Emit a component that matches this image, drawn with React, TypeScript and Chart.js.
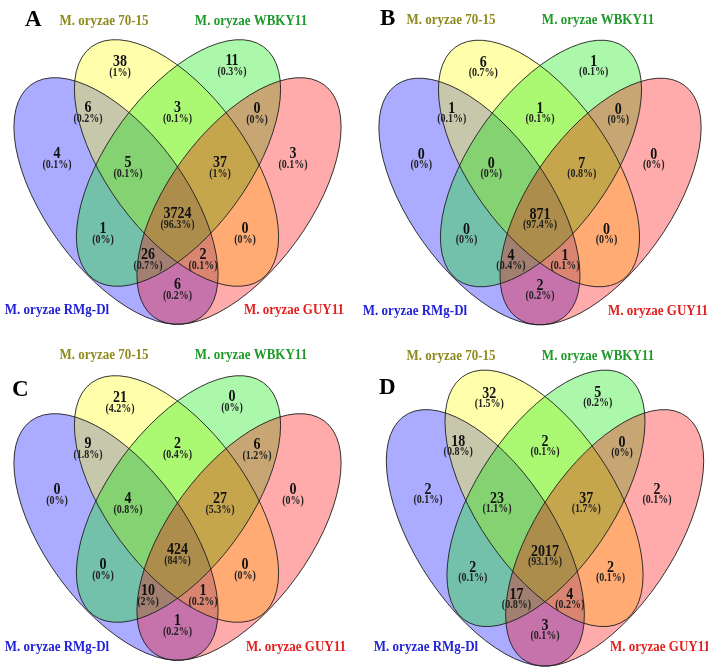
import React, { useEffect, useRef } from 'react';
import { Chart, registerables } from 'chart.js';

Chart.register(...registerables);

// ---------------- DATA ----------------
// Region order: 70-15 only, WBKY11 only, RMg-Dl∩70-15, 70-15∩WBKY11, WBKY11∩GUY11,
// RMg-Dl only, RMg-Dl∩70-15∩WBKY11, 70-15∩WBKY11∩GUY11, GUY11 only, RMg-Dl∩WBKY11,
// all four, 70-15∩GUY11, RMg-Dl∩WBKY11∩GUY11, RMg-Dl∩70-15∩GUY11, RMg-Dl∩GUY11
const regionKeys = ['Y', 'G', 'BY', 'YG', 'GR', 'B', 'BYG', 'YGR', 'R', 'BG', 'BYGR', 'YR', 'BGR', 'BYR', 'BR'];
const countsA = [38, 11, 6, 3, 0, 4, 5, 37, 3, 1, 3724, 0, 26, 2, 6];
const countsB = [6, 1, 1, 1, 0, 0, 0, 7, 0, 0, 871, 0, 4, 1, 2];
const countsC = [21, 0, 9, 2, 6, 0, 4, 27, 0, 0, 424, 0, 10, 1, 1];
const countsD = [32, 5, 18, 2, 0, 2, 23, 37, 2, 2, 2017, 2, 17, 4, 3];
const panelLetters = ['A', 'B', 'C', 'D'];
const setNames = ['M. oryzae RMg-Dl', 'M. oryzae 70-15', 'M. oryzae WBKY11', 'M. oryzae GUY11'];

// ---------------- LAYOUT / STYLE ----------------
const SET_FILLS = ['rgba(0,0,255,0.33)', 'rgba(255,255,0,0.33)', 'rgba(0,235,0,0.33)', 'rgba(255,0,0,0.33)'];
const TITLE_COLORS = ['#2222d6', '#8e8a1e', '#1f9a2a', '#e2201e'];
const SERIF = "'Liberation Serif', 'DejaVu Serif', 'Times New Roman', serif";
// ellipse geometry in diagram units, origin at diagram centre (y down)
const ELLIPSES = [
  { cx: -61.5, cy: 21.5, rot: 53.8 },
  { cx: -1, cy: -16.5, rot: 53.8 },
  { cx: 1, cy: -16.5, rot: 126.2 },
  { cx: 61.5, cy: 21.5, rot: 126.2 },
];
const SEMI_A = 144;
const SEMI_B = 70;
const REGION_POS: [number, number][] = [
  [-57.5, -112.5], [54.5, -113.5], [-89.5, -66.5], [0, -66.5], [79.5, -65.5],
  [-120.5, -20.5], [-49.5, -11.5], [42.5, -11.5], [115.5, -20.5], [-74.5, 54.5],
  [0, 39.5], [67.5, 54.5], [-29.5, 80.5], [25.5, 80.5], [0, 110.5],
];
const PANELS = [
  { counts: countsA, cx: 177.5, cy: 179.5, sx: 1, sy: 1, letter: [25, 26],
    titles: [[57, 310], [104, 21], [251, 21], [294, 310]] },
  { counts: countsB, cx: 540, cy: 180, sx: 0.985, sy: 1, letter: [380, 25],
    titles: [[415, 311], [451, 20], [598, 20], [658, 311]] },
  { counts: countsC, cx: 177.5, cy: 515.5, sx: 1, sy: 1, letter: [12, 396],
    titles: [[57, 647], [104, 355], [251, 355], [296, 647]] },
  { counts: countsD, cx: 545, cy: 515.5, sx: 0.97, sy: 1.04, letter: [379, 394],
    titles: [[426, 647], [451, 356], [598, 356], [660, 647]] },
];

function pctLabel(v: number, total: number) {
  let s = ((v / total) * 100).toFixed(1);
  if (s.endsWith('.0')) s = s.slice(0, -2);
  return '(' + s + '%)';
}

function drawText(ctx: CanvasRenderingContext2D, text: string, x: number, y: number,
  font: string, color: string, stretch: number, align: CanvasTextAlign = 'center',
  baseline: CanvasTextBaseline = 'middle') {
  ctx.save();
  ctx.translate(x, y);
  ctx.scale(1, stretch);
  ctx.font = font;
  ctx.fillStyle = color;
  ctx.textAlign = align;
  ctx.textBaseline = baseline;
  ctx.fillText(text, 0, 0);
  ctx.restore();
}

const vennPlugin = {
  id: 'venn4',
  beforeDatasetsDraw(chart: any) {
    const ctx: CanvasRenderingContext2D = chart.ctx;
    const xs = chart.scales.x;
    const ys = chart.scales.y;
    const kx = xs.getPixelForValue(1) - xs.getPixelForValue(0);
    const ky = ys.getPixelForValue(1) - ys.getPixelForValue(0);
    PANELS.forEach((p) => {
      const paths: Path2D[] = [];
      ELLIPSES.forEach((e) => {
        const px = xs.getPixelForValue(p.cx + e.cx * p.sx);
        const py = ys.getPixelForValue(p.cy + e.cy * p.sy);
        const path = new Path2D();
        const m = new DOMMatrix().translate(px, py).scale(p.sx * kx, p.sy * ky);
        const local = new Path2D();
        local.ellipse(0, 0, SEMI_A, SEMI_B, (e.rot * Math.PI) / 180, 0, Math.PI * 2);
        path.addPath(local, m);
        paths.push(path);
      });
      paths.forEach((path, i) => {
        ctx.fillStyle = SET_FILLS[i];
        ctx.fill(path);
      });
      ctx.strokeStyle = 'rgba(30,30,30,0.9)';
      ctx.lineWidth = 1;
      paths.forEach((path) => ctx.stroke(path));
    });
  },
  afterDatasetsDraw(chart: any) {
    const ctx: CanvasRenderingContext2D = chart.ctx;
    const xs = chart.scales.x;
    const ys = chart.scales.y;
    PANELS.forEach((p, pi) => {
      const meta = chart.getDatasetMeta(pi);
      const total = p.counts.reduce((s, v) => s + v, 0);
      meta.data.forEach((el: any, j: number) => {
        const v = p.counts[j];
        drawText(ctx, String(v), el.x, el.y - 5, `bold 14px ${SERIF}`, '#111', 1.2);
        drawText(ctx, pctLabel(v, total), el.x, el.y + 5.5, `bold 10px ${SERIF}`, '#222', 1.2);
      });
      setNames.forEach((name, k) => {
        const [tx, ty] = p.titles[k];
        drawText(ctx, name, xs.getPixelForValue(tx), ys.getPixelForValue(ty), `bold 13px ${SERIF}`, TITLE_COLORS[k], 1.12);
      });
      drawText(ctx, panelLetters[pi], xs.getPixelForValue(p.letter[0]), ys.getPixelForValue(p.letter[1]),
        `bold 23px ${SERIF}`, '#000', 1.0, 'left', 'alphabetic');
    });
  },
};

export default function App() {
  const canvasRef = useRef<HTMLCanvasElement | null>(null);
  useEffect(() => {
    if (!canvasRef.current) return;
    const datasets = PANELS.map((p, i) => ({
      label: panelLetters[i],
      data: REGION_POS.map(([x, y], j) => ({ x: p.cx + x * p.sx, y: p.cy + y * p.sy, key: regionKeys[j] })),
      pointRadius: 0,
      pointHoverRadius: 0,
      showLine: false,
    }));
    const chart = new Chart(canvasRef.current, {
      type: 'scatter',
      data: { datasets },
      options: {
        animation: false,
        responsive: true,
        maintainAspectRatio: false,
        layout: { padding: 0 },
        events: [],
        plugins: { legend: { display: false }, tooltip: { enabled: false }, title: { display: false } },
        scales: {
          x: { type: 'linear', min: 0, max: 708, display: false },
          y: { type: 'linear', min: 0, max: 671, reverse: true, display: false },
        },
      },
      plugins: [vennPlugin],
    });
    return () => chart.destroy();
  }, []);
  return (
    <div style={{ position: 'fixed', left: 0, top: 0, width: 708, height: 671, background: '#fff' }}>
      <canvas ref={canvasRef} />
    </div>
  );
}
